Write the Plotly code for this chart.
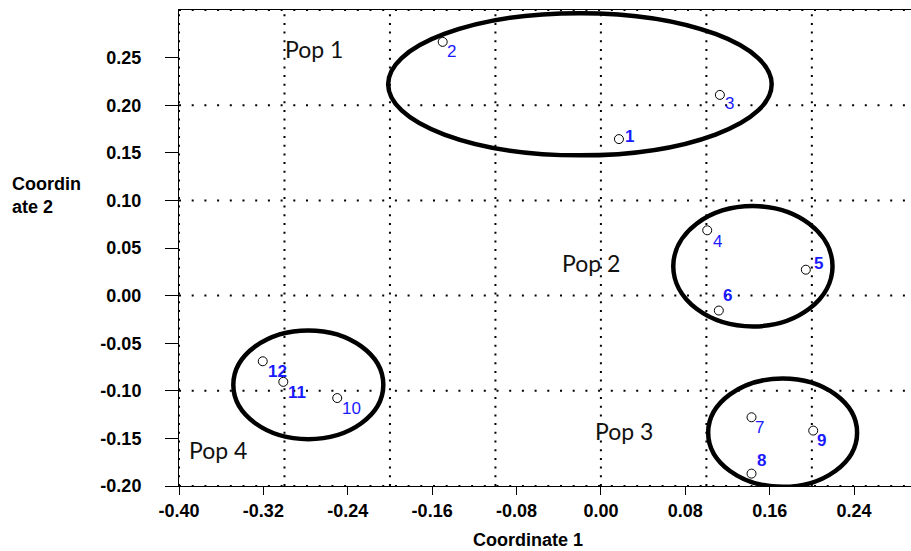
import plotly.graph_objects as go

# ---- data ----
sample_ids = ["1", "2", "3", "4", "5", "6", "7", "8", "9", "10", "11", "12"]
coord1 = [0.0171, -0.1500, 0.1128, 0.1008, 0.1943, 0.1118, 0.1428, 0.1428, 0.2013, -0.2500, -0.3011, -0.3206]
coord2 = [0.1644, 0.2665, 0.2108, 0.0686, 0.0272, -0.0157, -0.1278, -0.1870, -0.1418, -0.1076, -0.0906, -0.0690]

pop_names = ["Pop 1", "Pop 2", "Pop 3", "Pop 4"]
pop_cx = [-0.0199, 0.1441, 0.1723, -0.2774]
pop_cy = [0.2220, 0.0308, -0.1440, -0.0937]
pop_rx = [0.1818, 0.0755, 0.0706, 0.0711]
pop_ry = [0.0747, 0.0632, 0.0569, 0.0571]
pop_label_x = [-0.3014, -0.0389, -0.0076, -0.3924]
pop_label_y = [0.2595, 0.0345, -0.1418, -0.1620]

x_tickvals = [-0.40, -0.32, -0.24, -0.16, -0.08, 0.00, 0.08, 0.16, 0.24]
x_ticktext = ["-0.40", "-0.32", "-0.24", "-0.16", "-0.08", "0.00", "0.08", "0.16", "0.24"]
y_tickvals = [-0.20, -0.15, -0.10, -0.05, 0.00, 0.05, 0.10, 0.15, 0.20, 0.25]
y_ticktext = ["-0.20", "-0.15", "-0.10", "-0.05", "0.00", "0.05", "0.10", "0.15", "0.20", "0.25"]
grid_x = [-0.4, -0.3, -0.2, -0.1, 0.0, 0.1, 0.2]
grid_y = [-0.2, -0.1, 0.0, 0.1, 0.2, 0.3]

# ---- styles (label placement relative to point, px) ----
label_shift_x = [11, 9, 10, 10, 13, 9, 8, 10, 8, 14, 14, 15]
label_shift_y = [3, -10, -9, -11, 6, 15, -10, 13, -10, -10, -11, -10]
label_bold = [True, False, False, False, True, True, False, True, True, False, True, True]

X_RANGE = [-0.4, 0.294]
Y_RANGE = [-0.2, 0.3]
AX_FONT = "Liberation Sans, Arial, sans-serif"
BLUE = "#1a1aff"

fig = go.Figure()

fig.add_trace(go.Scatter(
    x=coord1, y=coord2, mode="markers",
    marker=dict(symbol="circle", size=9, color="white",
                line=dict(color="black", width=1)),
    hoverinfo="skip", showlegend=False,
))

shapes = []
for gx in grid_x:
    shapes.append(dict(type="line", xref="x", yref="y", x0=gx, x1=gx,
                       y0=Y_RANGE[0], y1=Y_RANGE[1], layer="below",
                       line=dict(color="black", width=2, dash="2px,6.7px")))
for gy in grid_y:
    shapes.append(dict(type="line", xref="x", yref="y", x0=X_RANGE[0], x1=X_RANGE[1],
                       y0=gy, y1=gy, layer="below",
                       line=dict(color="black", width=2, dash="2px,10.7px")))
for cx, cy, rx, ry in zip(pop_cx, pop_cy, pop_rx, pop_ry):
    shapes.append(dict(type="circle", xref="x", yref="y",
                       x0=cx - rx, x1=cx + rx, y0=cy - ry, y1=cy + ry,
                       layer="below", line=dict(color="black", width=4.5)))

annotations = []
for sid, xv, yv, sx, sy, b in zip(sample_ids, coord1, coord2, label_shift_x, label_shift_y, label_bold):
    annotations.append(dict(x=xv, y=yv, xref="x", yref="y", text=sid, showarrow=False,
                            xshift=sx, yshift=sy, xanchor="center", yanchor="middle",
                            font=dict(family=AX_FONT, size=17, color=BLUE,
                                      weight="bold" if b else "normal")))
for name, lx, ly in zip(pop_names, pop_label_x, pop_label_y):
    annotations.append(dict(x=lx, y=ly, xref="x", yref="y", text=name, showarrow=False,
                            xanchor="left", yanchor="middle",
                            font=dict(family="Lato, Open Sans, sans-serif", size=23, color="#111111")))
annotations.append(dict(x=0.4768, y=-0.1134, xref="paper", yref="paper", text="Coordinate 1",
                        showarrow=False, xanchor="center", yanchor="middle",
                        font=dict(family=AX_FONT, size=18, color="black", weight="bold")))
annotations.append(dict(x=-0.2309, y=0.611, xref="paper", yref="paper", text="Coordin<br>ate 2",
                        showarrow=False, xanchor="left", yanchor="middle", align="left",
                        font=dict(family=AX_FONT, size=18, color="black", weight="bold")))

fig.update_layout(
    width=911, height=551,
    margin=dict(l=179, r=0, t=10, b=65, pad=0),
    paper_bgcolor="white", plot_bgcolor="white",
    shapes=shapes, annotations=annotations,
    showlegend=False,
    xaxis=dict(range=X_RANGE, showgrid=False, zeroline=False,
               showline=True, linecolor="black", linewidth=1, mirror=True,
               ticks="outside", ticklen=8, tickwidth=1, tickcolor="black",
               tickvals=x_tickvals, ticktext=x_ticktext, ticklabelstandoff=0,
               tickfont=dict(family=AX_FONT, size=18, color="black", weight="bold")),
    yaxis=dict(range=Y_RANGE, showgrid=False, zeroline=False,
               showline=True, linecolor="black", linewidth=1, mirror=False,
               ticks="outside", ticklen=13, tickwidth=1, tickcolor="black",
               tickvals=y_tickvals, ticktext=y_ticktext, ticklabelstandoff=20,
               tickfont=dict(family=AX_FONT, size=18, color="black", weight="bold")),
)

fig.write_html("out.html")
